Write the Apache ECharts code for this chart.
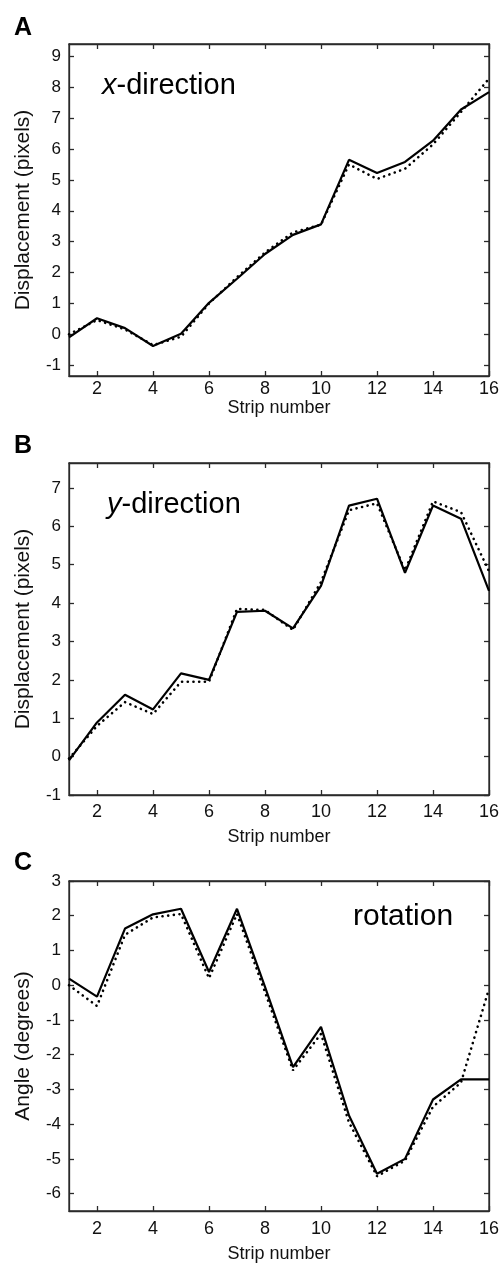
<!DOCTYPE html>
<html><head><meta charset="utf-8">
<script src="https://cdn.jsdelivr.net/npm/echarts@6/dist/echarts.min.js"></script>
<style>html,body{margin:0;padding:0;background:#fff}#c{width:504px;height:1264px}</style>
</head><body><div id="c"></div>
<script>
const strips = [1,2,3,4,5,6,7,8,9,10,11,12,13,14,15,16];
const xTicks = [2,4,6,8,10,12,14,16];

const xDirSolid  = [-0.1,0.52,0.2,-0.38,0.02,1.02,1.8,2.6,3.22,3.56,5.65,5.22,5.58,6.27,7.28,7.84];
const xDirDotted = [0.0,0.46,0.16,-0.35,-0.08,1.0,1.85,2.65,3.3,3.55,5.5,5.03,5.36,6.15,7.2,8.28];
const xDirTicks  = [-1,0,1,2,3,4,5,6,7,8,9];

const yDirSolid  = [-0.1,0.89,1.61,1.23,2.17,2.0,3.77,3.8,3.34,4.45,6.54,6.72,4.79,6.54,6.2,4.32];
const yDirDotted = [-0.05,0.8,1.42,1.11,1.95,1.95,3.85,3.82,3.3,4.55,6.42,6.6,4.85,6.65,6.37,4.83];
const yDirTicks  = [-1,0,1,2,3,4,5,6,7];

const rotSolid  = [0.19,-0.33,1.63,2.04,2.2,0.38,2.2,-0.05,-2.36,-1.2,-3.75,-5.43,-5.0,-3.29,-2.71,-2.71];
const rotDotted = [0.0,-0.6,1.45,1.95,2.05,0.2,2.05,-0.2,-2.45,-1.4,-3.95,-5.5,-5.05,-3.5,-2.8,-0.1];
const rotTicks  = [-6,-5,-4,-3,-2,-1,0,1,2,3];

const FONT = 'Liberation Sans, Arial, Helvetica, sans-serif';
const panels = [
  {grid:{left:69,top:44,width:420,height:332}, ymin:-1.35, ymax:9.4, yTicks:xDirTicks, solid:xDirSolid, dotted:xDirDotted, yName:'Displacement (pixels)', labelMargin:4, nameGap:15},
  {grid:{left:69,top:463,width:420,height:332}, ymin:-1, ymax:7.65, yTicks:yDirTicks, solid:yDirSolid, dotted:yDirDotted, yName:'Displacement (pixels)', labelMargin:8, nameGap:33},
  {grid:{left:69,top:881,width:420,height:331}, ymin:-6.5, ymax:3, yTicks:rotTicks, solid:rotSolid, dotted:rotDotted, yName:'Angle (degrees)', labelMargin:9, nameGap:34}
];

const grids=[], xAxes=[], yAxes=[], series=[];
const boxColor = '#2a2a2a';
panels.forEach((p,i)=>{
  grids.push(Object.assign({show:true, borderColor:boxColor, borderWidth:1.3, backgroundColor:'transparent', containLabel:false}, p.grid));
  const tick = {show:true, inside:true, length:5, lineStyle:{color:boxColor,width:1.3}};
  const line = {show:true, onZero:false, lineStyle:{color:boxColor, width:1.3}};
  xAxes.push({type:'value', gridIndex:i, min:1, max:16, position:'bottom',
    axisLine:line, splitLine:{show:false},
    axisTick:Object.assign({customValues:xTicks}, tick),
    axisLabel:{customValues:xTicks, margin:p.labelMargin, fontSize:18, color:'#111', fontFamily:FONT},
    name:'Strip number', nameLocation:'middle', nameGap:p.nameGap,
    nameTextStyle:{fontSize:18, color:'#111', fontFamily:FONT}});
  xAxes.push({type:'value', gridIndex:i, min:1, max:16, position:'top',
    axisLine:line, splitLine:{show:false},
    axisTick:Object.assign({customValues:xTicks}, tick), axisLabel:{show:false}});
  yAxes.push({type:'value', gridIndex:i, min:p.ymin, max:p.ymax, position:'left',
    axisLine:line, splitLine:{show:false},
    axisTick:Object.assign({customValues:p.yTicks}, tick),
    axisLabel:{customValues:p.yTicks, margin:8, fontSize:17, color:'#111', fontFamily:FONT},
    name:p.yName, nameLocation:'middle', nameGap:35,
    nameTextStyle:{fontSize:21, color:'#111', fontFamily:FONT}});
  yAxes.push({type:'value', gridIndex:i, min:p.ymin, max:p.ymax, position:'right',
    axisLine:line, splitLine:{show:false},
    axisTick:Object.assign({customValues:p.yTicks}, tick), axisLabel:{show:false}});
  series.push({type:'line', xAxisIndex:2*i, yAxisIndex:2*i, symbol:'none', silent:true,
    data:strips.map((s,k)=>[s,p.dotted[k]]),
    lineStyle:{color:'#000', width:2.6, type:[0.1,5.6], cap:'round'}});
  series.push({type:'line', xAxisIndex:2*i, yAxisIndex:2*i, symbol:'none', silent:true,
    data:strips.map((s,k)=>[s,p.solid[k]]),
    lineStyle:{color:'#000', width:2.2}});
});

const panelLetter = (t,top)=>({text:t, left:9, top:top, textStyle:{fontSize:25, fontWeight:'bold', color:'#000', fontFamily:FONT}});
const titles = [
  panelLetter('A',11), panelLetter('B',429), panelLetter('C',846),
  {text:'{i|x}-direction', left:97, top:66, textStyle:{fontSize:29, fontWeight:'normal', color:'#000', fontFamily:FONT, rich:{i:{fontSize:29, fontStyle:'italic', color:'#000', fontFamily:FONT}}}},
  {text:'{i|y}-direction', left:102, top:485, textStyle:{fontSize:29, fontWeight:'normal', color:'#000', fontFamily:FONT, rich:{i:{fontSize:29, fontStyle:'italic', color:'#000', fontFamily:FONT}}}},
  {text:'rotation', left:348, top:897, textStyle:{fontSize:30, fontWeight:'normal', color:'#000', fontFamily:FONT}}
];

const chart = echarts.init(document.getElementById('c'), null, {renderer:'canvas'});
chart.setOption({animation:false, backgroundColor:'#fff', title:titles, grid:grids, xAxis:xAxes, yAxis:yAxes, series:series});
</script></body></html>
